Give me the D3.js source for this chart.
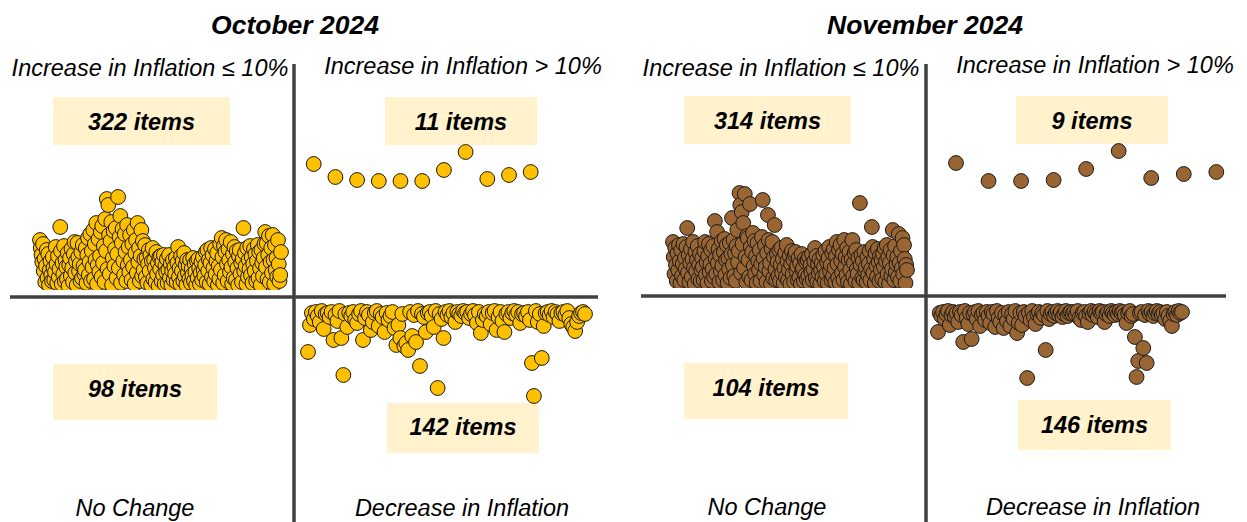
<!DOCTYPE html>
<html><head><meta charset="utf-8">
<script src="https://cdn.jsdelivr.net/npm/d3@7"></script>
<style>
html,body{margin:0;padding:0;background:#fff;}
svg{display:block;font-family:"Liberation Sans",Arial,sans-serif;}
</style></head>
<body>
<svg id="chart" width="1247" height="522"></svg>
<script>
// ---------- DATA ----------
const months = ["October 2024", "November 2024"];
const quadrantLabels = ["Increase in Inflation \u2264 10%", "Increase in Inflation > 10%", "No Change", "Decrease in Inflation"];
const octCounts = [322, 11, 98, 142];   // <=10%, >10%, no change, decrease
const novCounts = [314, 9, 104, 146];

// October: % increase per item, increase <= 10%
const octIncreaseLow = [
5.0,4.2,3.5,2.8,4.6,1.9,3.1,0.8,2.4,4.0,1.2,3.6,0.5,2.0,2.9,1.5,0.9,3.3,2.2,1.0,
1.8,4.3,2.6,0.7,3.4,1.3,2.1,6.3,3.9,0.6,2.7,1.6,4.4,0.9,3.0,2.3,1.1,3.7,0.4,2.5,
3.2,1.4,4.1,2.2,0.8,3.6,4.8,1.7,2.9,0.5,4.7,3.3,1.9,2.6,0.9,3.8,1.2,4.5,2.4,1.6,
2.0,4.2,0.7,3.5,5.2,1.5,2.8,5.6,0.9,3.9,2.3,6.0,1.1,4.6,3.0,6.7,0.6,2.5,5.1,1.8,
3.4,5.8,1.3,6.4,2.7,4.4,0.8,7.1,3.9,9.1,2.1,8.5,5.5,1.6,4.9,6.8,0.5,3.2,5.9,2.4,
4.1,6.2,1.2,3.6,9.3,2.2,5.3,7.4,0.7,4.7,6.1,2.9,1.5,5.6,3.8,0.9,6.5,2.5,4.3,1.8,
5.5,3.0,1.0,4.6,2.3,6.0,0.6,3.7,5.0,1.7,6.7,2.8,4.2,0.9,3.4,6.0,1.4,4.9,2.0,3.1,
4.5,1.3,3.2,0.7,2.6,4.0,1.9,3.5,0.5,2.9,4.2,1.1,3.0,2.2,0.8,3.8,1.6,2.7,0.4,3.3,
2.1,3.4,0.9,2.8,1.5,3.5,0.6,2.4,1.8,3.1,0.7,2.0,3.5,1.2,2.6,0.5,1.9,3.0,1.0,2.3,
1.6,3.2,0.8,2.7,4.3,1.3,2.2,0.6,3.4,1.9,2.9,0.9,3.7,1.4,2.5,0.5,3.0,1.7,2.4,1.1,
3.0,0.7,2.1,1.5,3.2,0.9,2.6,1.8,0.5,2.9,1.2,3.1,2.2,0.6,1.7,2.8,1.0,3.3,2.0,1.4,
2.5,3.8,0.8,4.0,1.9,3.0,0.6,2.7,4.2,1.3,3.5,2.2,0.9,4.1,1.6,2.9,3.7,0.5,2.4,1.1,
4.6,2.0,5.2,3.3,0.7,4.4,1.5,3.8,5.0,2.6,0.9,4.1,3.0,1.8,4.8,2.3,0.6,3.6,1.2,4.3,
2.8,1.0,3.9,2.2,0.5,3.4,4.0,1.6,2.7,0.8,3.1,6.2,1.9,3.7,2.4,0.6,4.2,1.3,3.0,2.1,
4.4,1.5,3.3,0.7,2.6,4.1,1.9,3.6,0.9,2.9,4.5,1.2,3.8,2.2,0.5,4.0,2.7,1.4,3.2,4.6,
5.8,2.3,4.7,1.1,3.5,5.4,0.8,2.8,4.2,1.7,5.5,3.0,0.6,4.5,2.0,3.2,1.3,5.0,2.6,0.9,1.5,3.8
];
// October: % increase per item, increase > 10%
const octIncreaseHigh = [12.6,11.3,11.0,10.9,10.9,10.9,12.0,13.8,11.1,11.5,11.8];
// October: % change per item, decrease
const octDecrease = [
-5.2,-2.5,-1.3,-1.9,-1.2,-1.6,-2.2,-1.1,-2.9,-1.4,
-1.3,-1.7,-1.2,-4.0,-1.5,-2.1,-1.1,-3.8,-7.5,-1.4,
-2.7,-1.3,-1.6,-1.2,-2.0,-2.3,-1.4,-1.1,-4.0,-1.8,
-1.2,-1.5,-3.0,-2.2,-1.3,-1.1,-2.6,-1.4,-1.7,-3.2,
-1.3,-2.0,-1.6,-1.2,-2.8,-4.5,-2.5,-3.8,-1.4,-4.6,
-4.3,-5.0,-1.2,-3.6,-1.5,-4.2,-1.1,-6.6,-1.4,-1.7,
-3.2,-1.3,-1.2,-1.6,-2.7,-1.1,-8.8,-1.4,-1.9,-3.8,
-1.2,-1.5,-1.1,-1.7,-1.3,-2.2,-1.2,-1.4,-1.6,-1.1,
-1.3,-1.2,-1.8,-1.4,-1.1,-1.5,-2.3,-1.2,-3.3,-2.0,
-1.4,-1.6,-1.2,-2.4,-1.3,-1.1,-3.0,-1.7,-1.2,-2.1,
-3.2,-1.4,-1.2,-1.8,-1.3,-1.1,-1.5,-1.2,-2.3,-1.4,
-1.3,-1.6,-1.2,-2.0,-6.3,-9.6,-1.1,-2.2,-1.4,-5.8,
-2.6,-1.3,-1.2,-1.5,-1.1,-1.7,-1.2,-1.4,-2.1,-1.3,
-1.2,-1.5,-1.1,-1.8,-2.4,-2.7,-3.1,-2.2,-1.6,-1.3,-1.2,-1.4
];

// November: % increase per item, increase <= 10%
const novIncreaseLow = [
4.7,3.2,1.5,4.1,2.4,0.8,3.6,1.9,4.4,2.8,0.6,3.9,1.3,2.5,4.5,0.9,3.1,2.0,4.2,6.1,
1.6,3.4,0.7,2.6,4.0,1.2,3.0,4.7,2.1,0.5,3.7,1.8,2.9,4.3,1.0,2.4,3.5,0.8,1.9,3.1,
2.2,0.9,3.8,4.7,1.4,2.7,0.6,3.3,4.5,1.7,2.5,3.9,0.8,2.0,4.3,1.2,6.8,3.0,1.5,5.7,
2.6,4.0,0.7,3.4,1.8,4.8,2.3,0.9,3.7,5.0,1.4,2.9,4.4,0.6,3.1,2.0,4.6,1.1,3.5,7.1,
2.4,4.9,1.3,3.6,0.8,4.3,5.9,2.7,3.8,9.6,8.4,1.6,7.7,4.5,6.6,2.1,9.5,3.2,0.7,5.3,
5.1,2.9,1.2,8.5,4.2,0.9,3.7,5.6,2.3,4.8,1.5,3.3,0.6,4.6,2.8,1.9,3.9,0.8,2.5,5.2,
8.9,3.1,1.4,4.4,2.2,0.7,3.6,7.4,4.9,1.8,2.6,0.5,4.0,4.7,1.1,3.2,6.4,2.0,0.9,3.5,
2.7,1.3,3.9,0.8,2.4,4.1,1.6,3.0,0.6,2.1,3.6,1.2,4.4,2.8,0.9,1.9,3.3,0.5,2.5,3.8,
1.5,2.9,0.7,3.4,3.7,1.8,2.3,0.9,3.1,1.2,2.6,0.5,3.5,1.9,2.1,0.8,3.0,1.4,2.7,1.0,
2.9,1.3,3.2,0.6,2.4,1.7,3.5,0.9,2.0,2.8,4.1,1.1,3.3,0.7,2.5,1.6,3.0,0.5,1.9,2.6,
1.2,3.4,2.2,0.8,3.8,1.5,2.7,0.6,3.1,4.2,1.8,2.4,0.9,3.6,1.3,4.0,2.1,0.7,3.3,4.7,
2.5,1.1,3.9,0.6,4.4,2.8,1.6,3.5,0.9,4.9,2.2,3.2,1.4,4.1,0.7,2.9,3.7,1.9,0.5,3.0,
4.9,1.3,2.6,3.6,0.8,3.9,2.0,1.5,3.1,0.6,8.6,2.4,3.4,1.1,2.8,0.9,3.7,1.8,2.2,0.7,
3.2,1.4,2.5,3.8,0.9,2.0,6.2,4.2,1.6,3.0,0.6,3.6,2.3,1.2,4.0,2.7,0.8,3.3,1.9,2.9,
1.0,3.5,2.2,4.1,0.7,2.8,4.4,1.5,3.2,0.5,2.6,3.9,1.3,2.0,5.9,3.4,0.9,4.3,1.7,2.5,
3.2,1.2,5.5,2.6,0.8,3.8,2.1,5.1,1.5,4.4,3.0,0.6,2.4,1.9
];
// November: % increase per item, increase > 10%
const novIncreaseHigh = [12.6,10.8,10.8,10.9,12.0,13.8,11.1,11.5,11.7];
// November: % change per item, decrease
const novDecrease = [
-3.2,-1.3,-1.6,-1.2,-1.9,-1.4,-1.1,-2.5,-1.5,-1.2,
-1.7,-1.3,-2.2,-1.2,-1.5,-4.2,-1.1,-1.8,-2.4,-1.3,
-3.9,-1.4,-1.2,-1.9,-1.1,-2.6,-1.5,-1.3,-2.0,-1.2,
-1.6,-2.3,-1.2,-1.4,-2.7,-1.1,-1.8,-2.2,-1.3,-2.8,
-1.5,-2.1,-1.2,-2.6,-1.4,-1.9,-1.1,-3.3,-2.3,-1.3,
-2.5,-1.2,-1.6,-7.8,-1.3,-2.0,-1.1,-1.7,-2.4,-1.4,
-1.2,-1.8,-1.3,-1.5,-5.0,-1.1,-1.9,-1.4,-1.2,-1.6,
-1.3,-1.1,-1.5,-1.2,-1.7,-1.4,-1.1,-1.6,-1.3,-1.2,
-1.4,-1.2,-1.5,-1.1,-1.8,-2.0,-1.3,-1.2,-1.6,-2.2,
-1.3,-1.1,-1.5,-1.2,-1.4,-1.7,-1.1,-1.3,-1.2,-2.2,
-1.4,-1.2,-1.6,-1.1,-1.3,-1.5,-1.2,-1.4,-1.1,-1.3,
-1.2,-1.5,-2.3,-1.3,-1.1,-1.6,-1.4,-3.7,-7.7,-6.1,
-1.3,-1.2,-4.8,-1.5,-6.3,-1.1,-1.4,-1.2,-1.6,-1.3,
-1.1,-1.4,-1.2,-1.5,-1.3,-1.9,-1.2,-1.6,-2.1,-2.6,-1.4,-1.2,-1.5,-1.1,-1.3,-1.2
];

// ---------- LAYOUT ----------
const panels = [
  { title: months[0], counts: octCounts, low: octIncreaseLow, high: octIncreaseHigh, dec: octDecrease,
    fill: "#FFC000", titleX: 295, vx: 294, hy: 297, hx: [10, 598], vTop: 64,
    lowX: [40, 281], upBase: 290, clipY: 290, highX: [313.7, 530.7], decX: [308, 585], decBase: 300,
    labelX: [150, 463, 135, 462], labelY: [76, 74, 516, 516],
    boxes: [[53, 97, 177, 48, 8.5], [385, 97, 152, 48, 8.5], [53, 364, 164, 56, 5], [387, 403, 152, 50, 7]] },
  { title: months[1], counts: novCounts, low: novIncreaseLow, high: novIncreaseHigh, dec: novDecrease,
    fill: "#996633", titleX: 925, vx: 926, hy: 296, hx: [641, 1226], vTop: 64,
    lowX: [673, 907], upBase: 289, clipY: 288, highX: [956, 1216.3], decX: [938, 1182], decBase: 300,
    labelX: [781, 1095, 767, 1093], labelY: [76, 73, 515, 515],
    boxes: [[684, 96, 167, 48, 8.5], [1016, 96, 152, 48, 8.5], [684, 363, 164, 56, 5], [1018, 400, 153, 50, 7.5]] }
];

const svg = d3.select("#chart");
const defs = svg.append("defs");
const R = 7.4;

panels.forEach((p, pi) => {
  const g = svg.append("g");

  // count boxes
  p.boxes.forEach((b, bi) => {
    g.append("rect").attr("x", b[0]).attr("y", b[1]).attr("width", b[2]).attr("height", b[3])
      .attr("fill", "#FFF2CC");
    g.append("text").attr("x", b[0] + b[2] / 2).attr("y", b[1] + b[3] / 2 + b[4])
      .attr("text-anchor", "middle").attr("font-size", 23.5).attr("font-weight", "bold")
      .attr("font-style", "italic").attr("fill", "#000").text(p.counts[bi] + " items");
  });

  // scales
  const xLow = d3.scaleLinear().domain([0, p.low.length - 1]).range(p.lowX);
  const xHigh = d3.scaleLinear().domain([0, p.high.length - 1]).range(p.highX);
  const xDec = d3.scaleLinear().domain([0, p.dec.length - 1]).range(p.decX);
  const yUp = d3.scaleLinear().domain([0, 14]).range([p.upBase, p.upBase - 140]);
  const yDown = d3.scaleLinear().domain([0, -10]).range([p.decBase, p.decBase + 100]);

  const clipId = "clipLow" + pi;
  defs.append("clipPath").attr("id", clipId).append("rect")
    .attr("x", p.lowX[0] - 20).attr("y", 0).attr("width", p.lowX[1] - p.lowX[0] + 40).attr("height", p.clipY);

  const dot = sel => sel.attr("r", R).attr("fill", p.fill).attr("stroke", "#1a1a1a").attr("stroke-width", 1);

  g.append("g").attr("clip-path", `url(#${clipId})`).selectAll("circle").data(p.low).join("circle")
    .attr("cx", (d, i) => xLow(i)).attr("cy", d => yUp(d)).call(dot);
  g.append("g").selectAll("circle").data(p.high).join("circle")
    .attr("cx", (d, i) => xHigh(i)).attr("cy", d => yUp(d)).call(dot);
  g.append("g").selectAll("circle").data(p.dec).join("circle")
    .attr("cx", (d, i) => xDec(i)).attr("cy", d => yDown(d)).call(dot);

  // axes (quadrant dividers)
  g.append("line").attr("x1", p.vx).attr("x2", p.vx).attr("y1", p.vTop).attr("y2", 522)
    .attr("stroke", "#404040").attr("stroke-width", 3.5);
  g.append("line").attr("x1", p.hx[0]).attr("x2", p.hx[1]).attr("y1", p.hy).attr("y2", p.hy)
    .attr("stroke", "#404040").attr("stroke-width", 3.5);

  // title
  g.append("text").attr("x", p.titleX).attr("y", 34).attr("text-anchor", "middle")
    .attr("font-size", 26.5).attr("font-weight", "bold").attr("font-style", "italic").text(p.title);

  // quadrant labels
  quadrantLabels.forEach((t, k) => {
    g.append("text").attr("x", p.labelX[k]).attr("y", p.labelY[k]).attr("text-anchor", "middle")
      .attr("font-size", 23.5).attr("font-style", "italic").attr("fill", "#000").text(t);
  });
});
</script>
</body></html>
